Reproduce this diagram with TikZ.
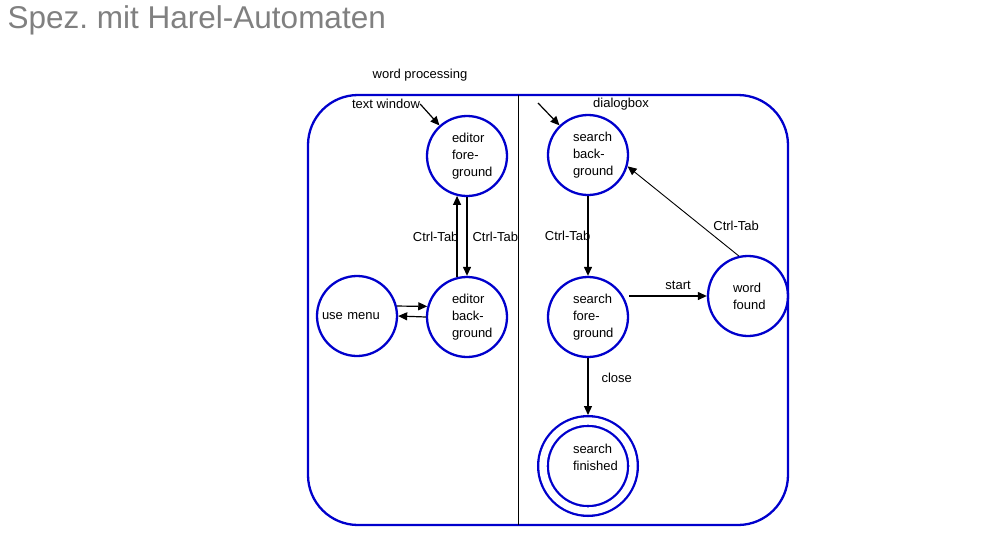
\documentclass[tikz,border=0pt]{standalone}
\usepackage{fontspec}
\setmainfont{Liberation Sans}
\usetikzlibrary{
  arrows.meta,
  automata,
  positioning
}
\definecolor{harelblue}{RGB}{0,0,204}
\definecolor{titlegray}{RGB}{128,128,128}
\newcommand\statefont{\fontsize{13}{17}\selectfont}
\hyphenpenalty=10000
\exhyphenpenalty=10000
\frenchspacing
\tikzset{
  >={Triangle[length=9pt,width=8pt]},
  every state/.style = {draw=harelblue, line width=2.3pt, minimum size=80pt,
    inner sep=0pt, text width=30pt, align=left},
  finalstate/.style = {double=white, double distance=7.4pt,
    minimum size=90pt, outer sep=6pt},
  trans/.style = {every edge/.style={draw, ->, line width=1.2pt}},
  lbl/.style = {inner sep=0pt},
}

\begin{document}
\begin{tikzpicture}[x=1pt, y=-1pt, font=\statefont]
  \useasboundingbox (0,0) rectangle (1001,549);
  \node[anchor=base west, inner sep=0pt, text=titlegray,
    font=\fontsize{31.5}{36}\selectfont] (title) at (7.5,28) {Spez. mit Harel-Automaten};

  % superstate
  \node[lbl] (wp) at (420,75) {word processing};
  \draw[harelblue, line width=2.3pt, rounded corners=50pt] (308,95) rectangle (788,525);
  \draw[line width=1pt] (518,95) -- (518,525);

  % text window
  \node[lbl] (textwin) at (386,104) {text window};
  \node[state] (efg) at (467,156) {editor\\fore-\\ground};
  \node[state] (ebg) at (467,317) {editor\\back-\\ground};
  \node[state, text width=70pt] (menu) at (357,316) {use menu};

  % dialogbox
  \node[lbl] (dlgbox) at (621,104) {dialogbox};
  \coordinate (dlg) at (538,103);
  \node[state] (sbg) at (588,155) {search\\back-\\ground};
  \node[state] (sfg) at (588,317) {search\\fore-\\ground};
  \node[state] (found) at (748,296) {word\\found};
  \node[state, finalstate] (fin) at (588,466) {search\\finished\\\mbox{}};

  \path[trans]
      (textwin.east) edge (efg)
      (ebg.104) edge node[lbl, left=-2pt] {Ctrl-Tab} (efg.256)
      (efg.south) edge node[lbl, right=5pt] {Ctrl-Tab} (ebg.north)
      (menu.14.5) edge (ebg.165.5)
      (ebg.west) edge (menu.east)
      (dlg) edge (sbg)
      (sbg) edge node[lbl, left=-3pt] {Ctrl-Tab} (sfg)
      (sfg.east |- found) edge node[lbl, pos=.63, above=6pt] {start} (found)
      (found.103) edge[line width=.9pt] node[lbl, pos=.34, right=12pt] {Ctrl-Tab} (sbg.-16)
      (sfg) edge node[lbl, pos=.35, right=13pt] {close} (fin);
\end{tikzpicture}
\end{document}
